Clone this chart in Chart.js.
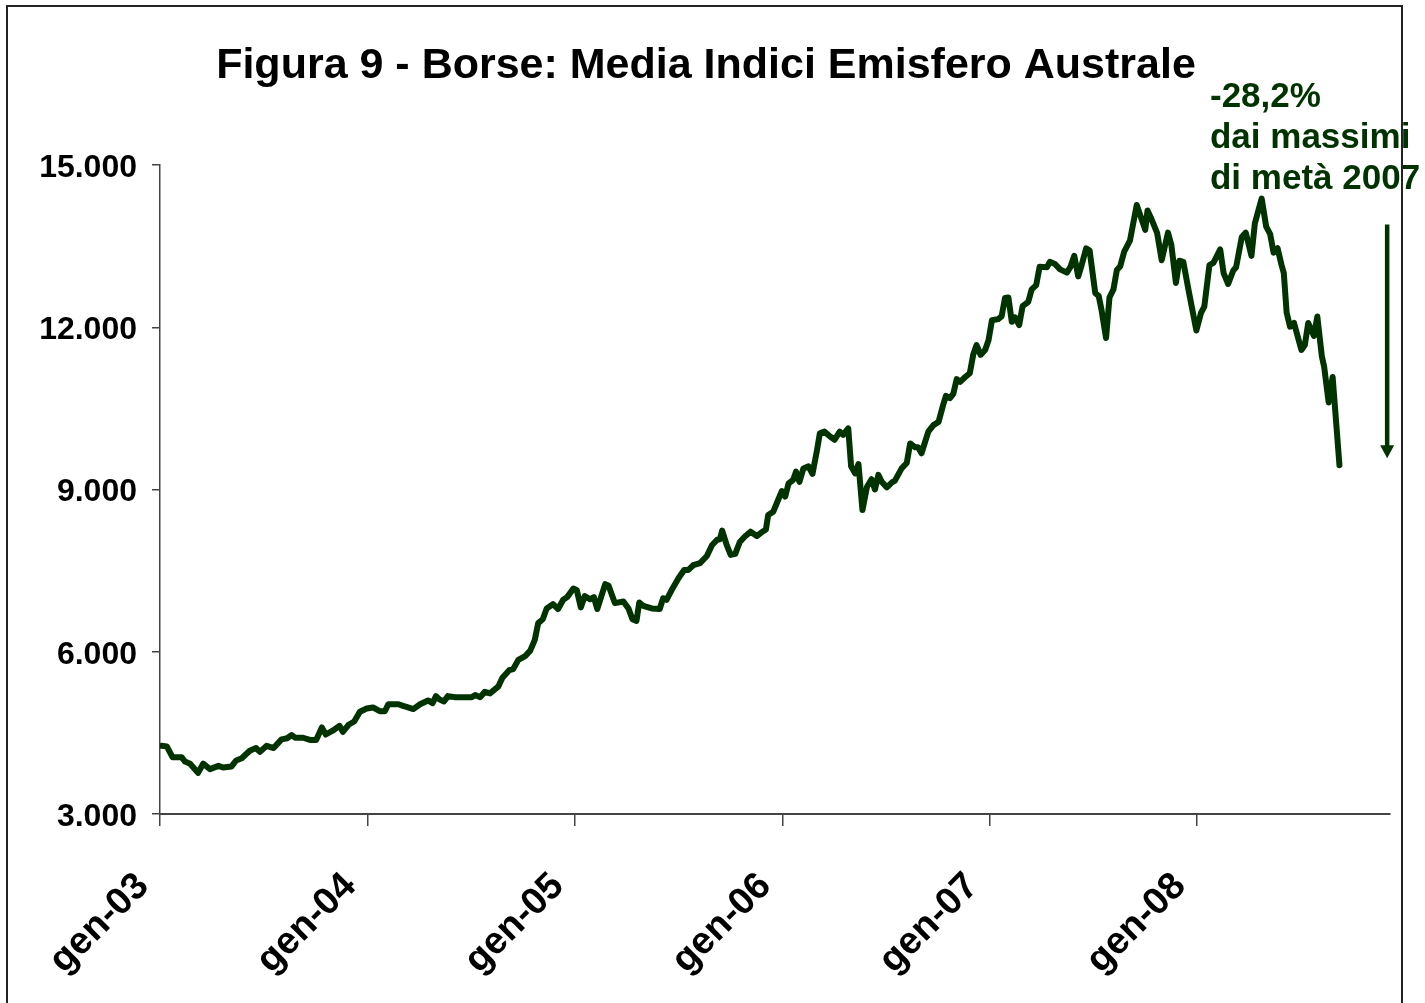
<!DOCTYPE html>
<html lang="it">
<head>
<meta charset="utf-8">
<title>Figura 9 - Borse: Media Indici Emisfero Australe</title>
<script src="https://cdn.jsdelivr.net/npm/chart.js@4.4.1/dist/chart.umd.min.js"></script>
<style>
    html, body { margin: 0; padding: 0; background: #fff; overflow: hidden; }
    #wrap { position: relative; width: 1425px; height: 1003px; }
    #cornice {
        position: absolute; left: 6px; top: 5px; width: 1393px; height: 1100px;
        border: 2px solid #222; border-bottom: none; pointer-events: none;
    }
</style>
</head>
<body>
<div id="wrap">
    <canvas id="graficoBorse" width="1425" height="1003"></canvas>
    <div id="cornice"></div>
</div>
<script>
// giorni trascorsi dal 1 gennaio 2003 e valore della media degli indici
const giorni = [
    3, 12, 22, 38, 44, 53, 67, 76, 88, 103, 111, 126, 134, 144, 158, 169, 176, 188, 200, 214,
    224, 232, 238, 252, 264, 275, 285, 292, 304, 316, 322, 332, 342, 352, 364, 375, 387, 396, 402, 420,
    428, 434, 446, 458, 472, 480, 486, 492, 500, 507, 520, 549, 555, 564, 572, 581, 596, 603, 615, 622,
    631, 643, 652, 660, 666, 674, 681, 692, 701, 710, 717, 728, 734, 741, 748, 757, 764, 770, 784, 790,
    801, 816, 825, 832, 839, 844, 851, 866, 880, 886, 892, 901, 913, 923, 930, 939, 951, 963, 972, 981,
    986, 990, 998, 1005, 1013, 1021, 1030, 1040, 1051, 1061, 1067, 1071, 1080, 1089, 1095, 1101, 1107, 1115, 1120, 1126,
    1133, 1142, 1149, 1157, 1162, 1170, 1180, 1188, 1197, 1203, 1212, 1217, 1224, 1230, 1237, 1245, 1253, 1259, 1265, 1271,
    1280, 1290, 1294, 1306, 1315, 1321, 1330, 1335, 1341, 1353, 1362, 1371, 1379, 1384, 1391, 1397, 1403, 1409, 1418, 1426,
    1432, 1438, 1445, 1453, 1459, 1465, 1476, 1482, 1488, 1494, 1500, 1506, 1513, 1519, 1529, 1535, 1543, 1549, 1562, 1567,
    1576, 1585, 1597, 1603, 1610, 1617, 1623, 1631, 1637, 1647, 1653, 1658, 1666, 1672, 1679, 1685, 1691, 1698, 1708, 1720,
    1735, 1739, 1746, 1756, 1764, 1775, 1781, 1789, 1795, 1802, 1811, 1825, 1833, 1839, 1848, 1855, 1867, 1873, 1881, 1890,
    1895, 1905, 1912, 1922, 1928, 1940, 1948, 1955, 1961, 1968, 1975, 1979, 1984, 1990, 1997, 2010, 2016, 2022, 2032, 2038,
    2046, 2050, 2058, 2065, 2077
];

const valori = [
    4260, 4250, 4050, 4050, 3970, 3930, 3760, 3930, 3830, 3890, 3860, 3880, 3990, 4030, 4170, 4220, 4150, 4260, 4220, 4380,
    4400, 4460, 4410, 4410, 4370, 4370, 4600, 4470, 4540, 4630, 4520, 4650, 4710, 4890, 4950, 4970, 4900, 4900, 5030, 5030,
    5000, 4980, 4940, 5030, 5100, 5050, 5180, 5120, 5080, 5180, 5160, 5160, 5200, 5160, 5260, 5230, 5360, 5520, 5660, 5680,
    5850, 5920, 6020, 6220, 6530, 6600, 6800, 6880, 6790, 6960, 7010, 7170, 7140, 6820, 7030, 6970, 7010, 6790, 7250, 7220,
    6900, 6930, 6800, 6600, 6570, 6910, 6850, 6800, 6790, 6990, 6960, 7140, 7360, 7510, 7510, 7600, 7640, 7770, 7970, 8070,
    8080, 8240, 7970, 7790, 7810, 8030, 8130, 8220, 8140, 8220, 8260, 8530, 8590, 8820, 8970, 8870, 9115, 9180, 9330, 9140,
    9390, 9430, 9290, 9730, 10040, 10070, 9980, 9920, 10070, 10010, 10130, 9430, 9300, 9470, 8620, 9050, 9190, 9000, 9270, 9140,
    9040, 9140, 9160, 9390, 9490, 9850, 9780, 9780, 9670, 10070, 10190, 10250, 10560, 10730, 10690, 10770, 11040, 10990, 11080, 11150,
    11490, 11670, 11490, 11580, 11760, 12130, 12150, 12200, 12540, 12550, 12100, 12180, 12040, 12390, 12470, 12700, 12780, 13120, 13110, 13210,
    13170, 13070, 13010, 13110, 13320, 12940, 13150, 13460, 13420, 12630, 12580, 12320, 11800, 12550, 12700, 13060, 13130, 13400, 13600, 14260,
    13800, 14160, 14000, 13740, 13240, 13750, 13520, 12820, 13230, 13210, 12700, 11940, 12260, 12380, 13150, 13190, 13440, 13000, 12800, 13050,
    13110, 13670, 13750, 13320, 13920, 14380, 13860, 13720, 13380, 13460, 13150, 13000, 12270, 12010, 12080, 11580, 11670, 12080, 11840, 12200,
    11460, 11270, 10610, 11080, 9450
];

// inizio di ogni anno (giorni dal 1/1/2003) e relative etichette
const inizioAnni = [0, 365, 731, 1096, 1461, 1826];
const etichetteAnni = ['gen-03', 'gen-04', 'gen-05', 'gen-06', 'gen-07', 'gen-08'];
const ultimoGiorno = 2166;

const tickValori = [3000, 6000, 9000, 12000, 15000];

// nota a destra: freccia e testo
const notaRighe = ['-28,2%', 'dai massimi', 'di metà 2007'];
const frecciaGiorno = 2161;
const frecciaDa = 13900;
const frecciaA = 9580;

const VERDE = '#003300';
const FONT = 'Arial, "Liberation Sans", Helvetica, sans-serif';

function formattaMigliaia(v) {
    return String(v).replace(/\B(?=(\d{3})+(?!\d))/g, '.');
}

const notaPlugin = {
    id: 'notaMassimi',
    afterDatasetsDraw(chart) {
        const ctx = chart.ctx;
        const x = chart.scales.x;
        const y = chart.scales.y;
        const fx = x.getPixelForValue(frecciaGiorno);
        const y1 = y.getPixelForValue(frecciaDa);
        const y2 = y.getPixelForValue(frecciaA);

        ctx.save();
        ctx.strokeStyle = VERDE;
        ctx.fillStyle = VERDE;
        ctx.lineWidth = 4.5;
        ctx.beginPath();
        ctx.moveTo(fx, y1);
        ctx.lineTo(fx, y2 - 10);
        ctx.stroke();
        ctx.beginPath();
        ctx.moveTo(fx - 7, y2 - 13);
        ctx.lineTo(fx + 7, y2 - 13);
        ctx.lineTo(fx, y2);
        ctx.closePath();
        ctx.fill();

        // testo sopra l'area del grafico
        ctx.font = 'bold 35px ' + FONT;
        ctx.textAlign = 'left';
        ctx.textBaseline = 'alphabetic';
        const tx = x.getPixelForValue(1849);
        notaRighe.forEach((riga, i) => {
            ctx.fillText(riga, tx, 107 + i * 41);
        });
        ctx.restore();
    }
};

const ctx = document.getElementById('graficoBorse').getContext('2d');

new Chart(ctx, {
    type: 'line',
    data: {
        datasets: [{
            label: 'Media Indici Emisfero Australe',
            data: giorni.map((g, i) => ({ x: g, y: valori[i] })),
            borderColor: VERDE,
            backgroundColor: VERDE,
            borderWidth: 6,
            borderJoinStyle: 'round',
            borderCapStyle: 'round',
            pointRadius: 0,
            tension: 0,
            fill: false
        }]
    },
    options: {
        responsive: false,
        animation: false,
        devicePixelRatio: 1,
        layout: {
            padding: { left: 22, right: 35, top: 0, bottom: 0 }
        },
        scales: {
            x: {
                type: 'linear',
                min: 0,
                max: ultimoGiorno,
                afterBuildTicks: (scale) => {
                    scale.ticks = inizioAnni.map(v => ({ value: v }));
                },
                afterFit: (scale) => {
                    scale.height = 189;
                },
                border: { display: true, color: '#444', width: 2 },
                grid: {
                    display: true,
                    drawOnChartArea: false,
                    drawTicks: true,
                    tickLength: 12,
                    color: '#444',
                    lineWidth: 1.5
                },
                ticks: {
                    autoSkip: false,
                    maxRotation: 45,
                    minRotation: 45,
                    padding: 38,
                    labelOffset: -17,
                    color: '#000',
                    font: { family: FONT, size: 38, weight: 'bold' },
                    callback: (value) => {
                        const i = inizioAnni.indexOf(value);
                        return i >= 0 ? etichetteAnni[i] : '';
                    }
                }
            },
            y: {
                type: 'linear',
                min: 3000,
                max: 15000,
                afterBuildTicks: (scale) => {
                    scale.ticks = tickValori.map(v => ({ value: v }));
                },
                afterFit: (scale) => {
                    scale.width = 138;
                },
                border: { display: true, color: '#444', width: 1.5 },
                grid: {
                    display: true,
                    drawOnChartArea: false,
                    drawTicks: true,
                    tickLength: 8,
                    color: '#444',
                    lineWidth: 1.5
                },
                ticks: {
                    padding: 15,
                    labelOffset: 3,
                    color: '#000',
                    font: { family: FONT, size: 32, weight: 'bold' },
                    callback: (value) => formattaMigliaia(value)
                }
            }
        },
        plugins: {
            legend: { display: false },
            tooltip: { enabled: false },
            title: {
                display: true,
                text: 'Figura 9 - Borse: Media Indici Emisfero Australe',
                color: '#000',
                font: { family: FONT, size: 43, weight: 'bold' },
                padding: { top: 40, bottom: 73.4 }
            }
        }
    },
    plugins: [notaPlugin]
});
</script>
</body>
</html>
